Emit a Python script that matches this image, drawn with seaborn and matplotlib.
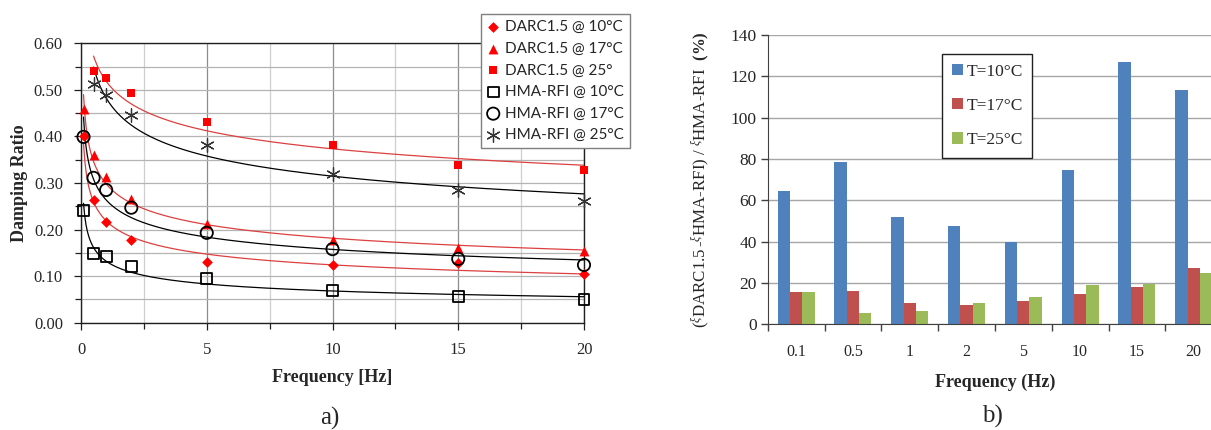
import numpy as np
import pandas as pd
import matplotlib
matplotlib.use("Agg")
import matplotlib.pyplot as plt
from matplotlib.ticker import MultipleLocator, FormatStrFormatter, FixedLocator
import seaborn as sns

# ---------------- data (left panel) ----------------
freq = [0.1, 0.5, 1, 2, 5, 10, 15, 20]
freq_25 = [0.5, 1, 2, 5, 10, 15, 20]
darc_10 = [0.400, 0.263, 0.216, 0.178, 0.131, 0.123, 0.128, 0.104]
darc_17 = [0.458, 0.360, 0.312, 0.266, 0.213, 0.178, 0.160, 0.155]
darc_25 = [0.540, 0.525, 0.493, 0.432, 0.381, 0.339, 0.328]
hma_10 = [0.240, 0.149, 0.143, 0.120, 0.094, 0.070, 0.056, 0.050]
hma_17 = [0.399, 0.311, 0.285, 0.247, 0.193, 0.158, 0.137, 0.124]
hma_25 = [0.512, 0.490, 0.446, 0.382, 0.320, 0.285, 0.262]
series_labels = ["DARC1.5 @ 10°C", "DARC1.5 @ 17°C", "DARC1.5 @ 25°",
                 "HMA-RFI @ 10°C", "HMA-RFI @ 17°C", "HMA-RFI @ 25°C"]

# ---------------- data (right panel) ----------------
bar_categories = ["0.1", "0.5", "1", "2", "5", "10", "15", "20"]
diff_10 = [64.6, 78.5, 52.1, 47.7, 39.8, 74.6, 126.9, 113.2]
diff_17 = [15.8, 16.1, 10.2, 9.3, 11.3, 14.5, 18.2, 27.1]
diff_25 = [15.8, 5.6, 6.4, 10.2, 13.4, 19.0, 19.5, 25.0]
bar_labels = ["T=10°C", "T=17°C", "T=25°C"]

# ---------------- style ----------------
sns.set_style("white")
SERIF = "Liberation Serif"
plt.rcParams["font.family"] = [SERIF, "DejaVu Serif"]
plt.rcParams["mathtext.fontset"] = "custom"
plt.rcParams["mathtext.rm"] = SERIF
plt.rcParams["mathtext.it"] = SERIF + ":italic"
plt.rcParams["mathtext.bf"] = SERIF + ":bold"

RED = "#ff0000"
RED_LINE = "#dc4040"
BLACK = "#000000"

fig = plt.figure(figsize=(12.11, 4.30), dpi=100)

# ================= left panel =================
ax1 = fig.add_axes([81 / 1211, 1 - 322.7 / 430, 503 / 1211, 279.4 / 430])

styles = [
    dict(marker="D", s=30, color=RED, edgecolor=RED, linewidth=0),
    dict(marker="^", s=50, color=RED, edgecolor=RED, linewidth=0),
    dict(marker="s", s=40, color=RED, edgecolor=RED, linewidth=0),
    dict(marker="s", s=62, color=BLACK, facecolor="none", edgecolor=BLACK, linewidth=1.3),
    dict(marker="o", s=78, color=BLACK, facecolor="none", edgecolor=BLACK, linewidth=1.3),
    dict(marker=(6, 2, 0), s=95, color="#333333", linewidth=0.9),
]
xs = [freq, freq, freq_25, freq, freq, freq_25]
ys = [darc_10, darc_17, darc_25, hma_10, hma_17, hma_25]
line_colors = [RED_LINE, RED_LINE, RED_LINE, BLACK, BLACK, BLACK]

# power-law trend lines fitted to each series
for x, y, lc in zip(xs, ys, line_colors):
    xa, ya = np.asarray(x, float), np.asarray(y, float)
    b, ln_a = np.polyfit(np.log(xa), np.log(ya), 1)
    xx = np.linspace(xa.min(), xa.max(), 400)
    sns.lineplot(x=xx, y=np.exp(ln_a) * xx ** b, color=lc, linewidth=0.9,
                 ax=ax1, legend=False, zorder=2)

for x, y, lab, kw in zip(xs, ys, series_labels, styles):
    sns.scatterplot(x=x, y=y, ax=ax1, label=lab, zorder=3, clip_on=False, **kw)

ax1.set_xlim(0, 20)
ax1.set_ylim(0, 0.60)
ax1.xaxis.set_major_locator(MultipleLocator(5))
ax1.xaxis.set_minor_locator(MultipleLocator(2.5))
ax1.yaxis.set_major_locator(MultipleLocator(0.10))
ax1.yaxis.set_minor_locator(MultipleLocator(0.05))
ax1.yaxis.set_major_formatter(FormatStrFormatter("%.2f"))
ax1.grid(which="major", axis="x", color="#8c8c8c", linewidth=0.9)
ax1.grid(which="minor", axis="x", color="#cfcfcf", linewidth=0.9)
ax1.grid(which="both", axis="y", color="#b4b4b4", linewidth=0.9)
ax1.set_axisbelow(True)
for sp in ax1.spines.values():
    sp.set_color("#202020")
    sp.set_linewidth(1.0)
ax1.tick_params(which="major", direction="out", length=5, width=0.9, color="#202020",
                labelsize=12, bottom=True, left=True)
ax1.tick_params(which="minor", direction="out", length=4, width=0.9, color="#202020",
                bottom=True, left=True)
ax1.tick_params(axis="x", which="major", pad=9)
ax1.tick_params(axis="y", which="major", pad=8)

ax1.set_xlabel("Frequency [Hz]", fontsize=13, fontweight="bold")
ax1.set_ylabel("Damping Ratio", fontsize=13, fontweight="bold")
ax1.xaxis.set_label_coords(0.5, -0.165)
ax1.yaxis.set_label_coords(-0.105, 0.5)

leg1 = ax1.legend(loc="upper left", bbox_to_anchor=(481 / 1211, 1 - 14 / 430),
                  bbox_transform=fig.transFigure, frameon=True, fancybox=False,
                  edgecolor="#7f7f7f", framealpha=1, borderpad=0.4,
                  labelspacing=0.5, handletextpad=0.35, handlelength=0.8,
                  borderaxespad=0, prop={"family": "Lato", "size": 11})
leg1.get_frame().set_linewidth(1.0)

# ================= right panel =================
ax2 = fig.add_axes([767.7 / 1211, 1 - 324.3 / 430, 454.4 / 1211, 289.3 / 430])

df = pd.DataFrame({
    "freq": bar_categories * 3,
    "value": diff_10 + diff_17 + diff_25,
    "temp": [bar_labels[0]] * 8 + [bar_labels[1]] * 8 + [bar_labels[2]] * 8,
})
sns.barplot(data=df, x="freq", y="value", hue="temp", order=bar_categories,
            hue_order=bar_labels, palette=["#4f81bd", "#c0504d", "#9bbb59"],
            saturation=1, width=0.65, ax=ax2, linewidth=0)

ax2.set_xlim(-0.5, 7.5)
ax2.set_ylim(0, 140)
ax2.yaxis.set_major_locator(MultipleLocator(20))
ax2.grid(axis="y", color="#a6a6a6", linewidth=1.0)
ax2.grid(axis="x", visible=False)
ax2.set_axisbelow(True)
ax2.spines["top"].set_visible(False)
ax2.spines["right"].set_visible(False)
ax2.spines["left"].set_color("#404040")
ax2.spines["bottom"].set_color("#404040")
ax2.xaxis.set_minor_locator(FixedLocator(np.arange(-0.5, 8.0, 1.0)))
ax2.tick_params(axis="x", which="major", length=0, pad=14, labelsize=11.5)
ax2.tick_params(axis="x", which="minor", direction="out", length=5, width=1.0,
                color="#404040", bottom=True)
ax2.tick_params(axis="y", which="major", direction="out", length=5, width=1.0,
                color="#404040", left=True, pad=3, labelsize=12.5)

ax2.set_xlabel("Frequency (Hz)", fontsize=13, fontweight="bold")
ax2.set_ylabel(r"$({}^{\xi}\mathrm{DARC1.5}\,\text{-}{}^{\xi}\mathrm{HMA\text{-}RFI})\ /\ {}^{\xi}\mathrm{HMA\text{-}RFI}$  $\mathbf{(\%)}$",
               fontsize=12.2)
ax2.xaxis.set_label_coords(0.5, -0.17)
ax2.yaxis.set_label_coords(-0.125, 0.5)

leg2 = ax2.legend(loc="upper left", bbox_to_anchor=(942 / 1211, 1 - 54 / 430),
                  bbox_transform=fig.transFigure, frameon=True, fancybox=False,
                  edgecolor="#202020", framealpha=1, borderpad=0.55,
                  labelspacing=1.05, handletextpad=0.2, handlelength=0.65,
                  handleheight=0.65, borderaxespad=0, title=None,
                  prop={"family": SERIF, "size": 12.5})
leg2.get_frame().set_linewidth(1.0)

fig.text(330 / 1211, 1 - 418 / 430, "a)", fontsize=18, ha="center", va="center")
fig.text(992 / 1211, 1 - 416 / 430, "b)", fontsize=18, ha="center", va="center")

fig.savefig("out.png", dpi=100)
